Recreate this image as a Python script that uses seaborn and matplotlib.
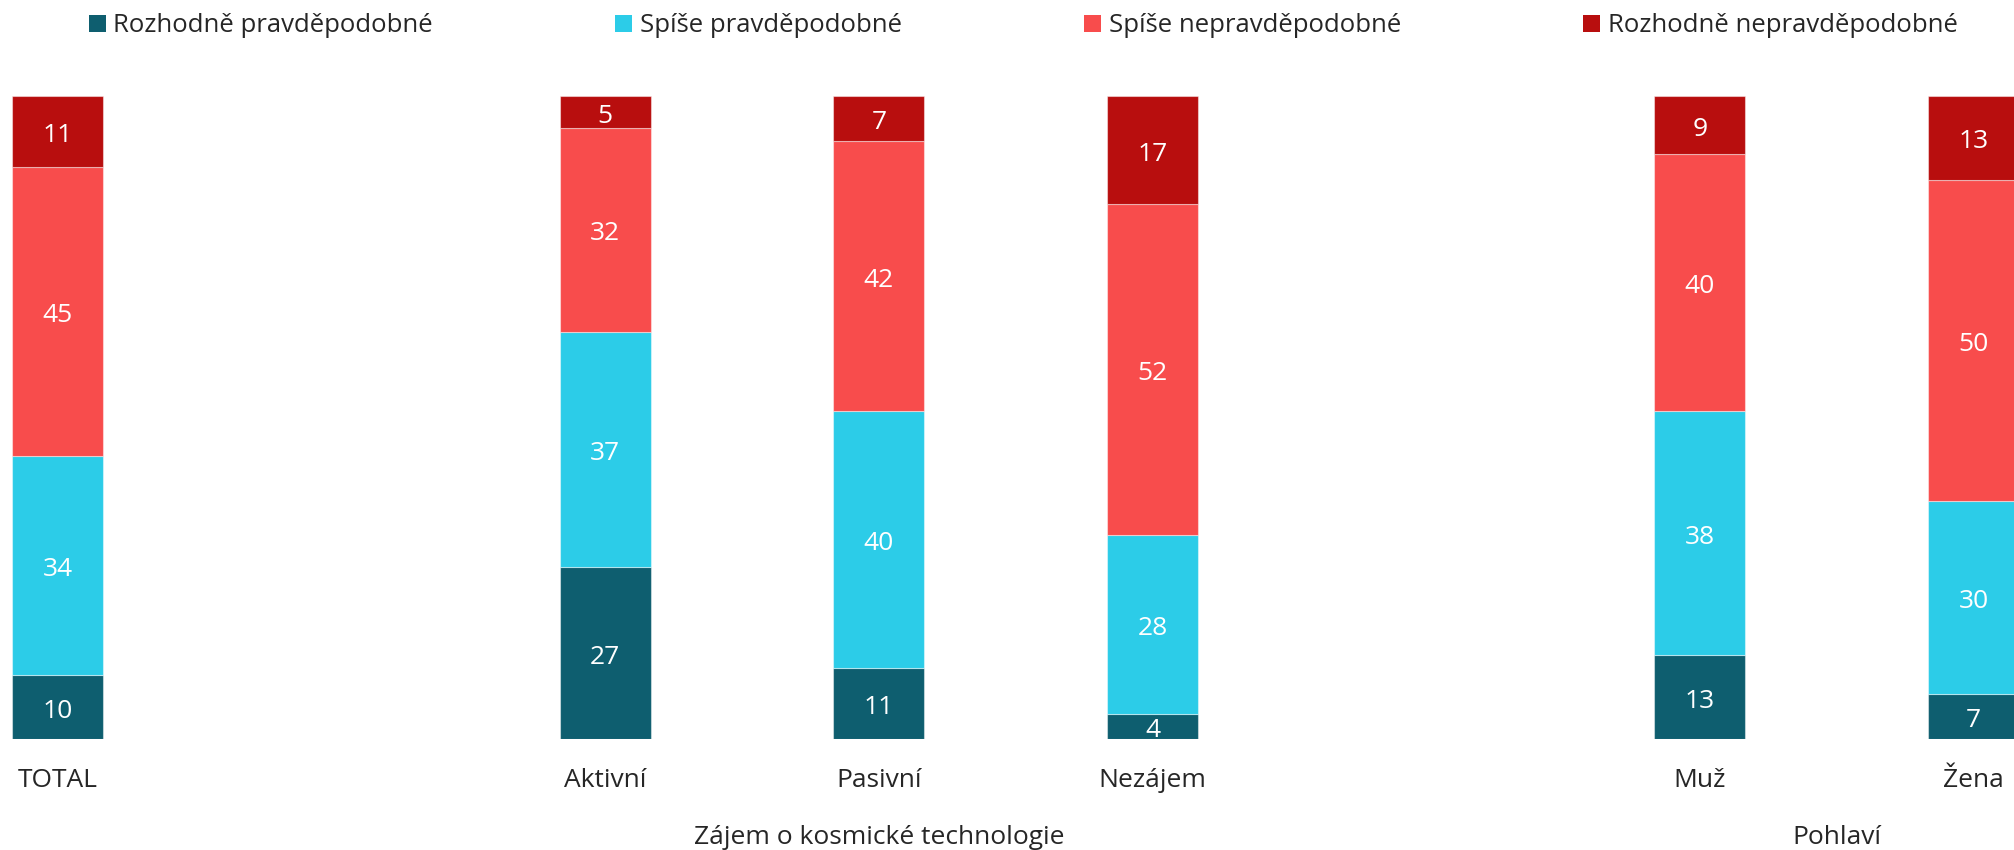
import numpy as np
import pandas as pd
import matplotlib
matplotlib.use("Agg")
import matplotlib.pyplot as plt
import seaborn as sns
from matplotlib.patches import Patch
from matplotlib.transforms import blended_transform_factory

# ---- data ----
categories = ["TOTAL", "Aktivní", "Pasivní", "Nezájem", "Muž", "Žena"]
slots = [0, 2, 3, 4, 6, 7]  # category slot positions (empty slots separate groups)
series = ["Rozhodně pravděpodobné", "Spíše pravděpodobné",
          "Spíše nepravděpodobné", "Rozhodně nepravděpodobné"]
rozhodne_pravdepodobne = [10, 27, 11, 4, 13, 7]
spise_pravdepodobne = [34, 37, 40, 28, 38, 30]
spise_nepravdepodobne = [45, 32, 42, 52, 40, 50]
rozhodne_nepravdepodobne = [11, 5, 7, 17, 9, 13]
group_names = ["Zájem o kosmické technologie", "Pohlaví"]
group_members = [["Aktivní", "Pasivní", "Nezájem"], ["Muž", "Žena"]]

colors = ["#0E5E6F", "#2CCCE8", "#F84C4C", "#B80E0E"]
text_color = "#262626"

values = [rozhodne_pravdepodobne, spise_pravdepodobne,
          spise_nepravdepodobne, rozhodne_nepravdepodobne]
totals = np.sum(np.array(values), axis=0)

rows = []
for s, vals in zip(series, values):
    for c, p, v, t in zip(categories, slots, vals, totals):
        rows.append({"cat": c, "pos": p, "series": s, "value": v, "pct": v / t * 100})
df = pd.DataFrame(rows)

sns.set_theme(style="white")
plt.rcParams["font.family"] = ["Open Sans", "DejaVu Sans"]

W, H = 2015, 850
fig = plt.figure(figsize=(W / 100, H / 100), dpi=100)
ax = fig.add_axes([0, (H - 739) / H, 1, 643 / H])

sns.histplot(data=df, x="pos", weights="pct", hue="series",
             hue_order=series[::-1], palette=colors[::-1],
             multiple="stack", discrete=True, shrink=0.333,
             alpha=1, linewidth=0.8, edgecolor=(1, 1, 1, 0.45),
             legend=False, ax=ax)

# value labels
bottom = np.zeros(len(categories))
for s, vals in zip(series, values):
    pct = np.array(vals) / totals * 100
    for p, v, b, h in zip(slots, vals, bottom, pct):
        ax.annotate(str(v), (p, b + h / 2), xytext=(0, -3),
                    textcoords="offset points", ha="center", va="center",
                    color="white", fontsize=19)
    bottom = bottom + pct

ax.set_xlim(-57.8 / 273.7, 7 + (W - 1973.5) / 273.7)
ax.set_ylim(0, 100)
ax.set_xticks(slots)
ax.set_xticklabels(categories, fontsize=19, color=text_color)
ax.tick_params(axis="x", length=0, pad=21)
ax.set_yticks([])
ax.set_xlabel("")
ax.set_ylabel("")
for sp in ax.spines.values():
    sp.set_visible(False)

trans = blended_transform_factory(ax.transData, ax.transAxes)
for name, members in zip(group_names, group_members):
    cx = np.mean([slots[categories.index(m)] for m in members])
    ax.text(cx, -(837 - 739) / 643, name, ha="center", va="center",
            fontsize=19, color=text_color, transform=trans)

handles = [Patch(facecolor=c, edgecolor="none") for c in colors]
fig.legend(handles, series, ncol=4, loc="center left",
           bbox_to_anchor=(89 / W, 1 - 26 / H), frameon=False,
           fontsize=18.5, handlelength=0.65, handleheight=0.65,
           handletextpad=0.3, columnspacing=7.1, borderpad=0,
           borderaxespad=0, labelcolor=text_color)

fig.savefig("out.png", dpi=100)
